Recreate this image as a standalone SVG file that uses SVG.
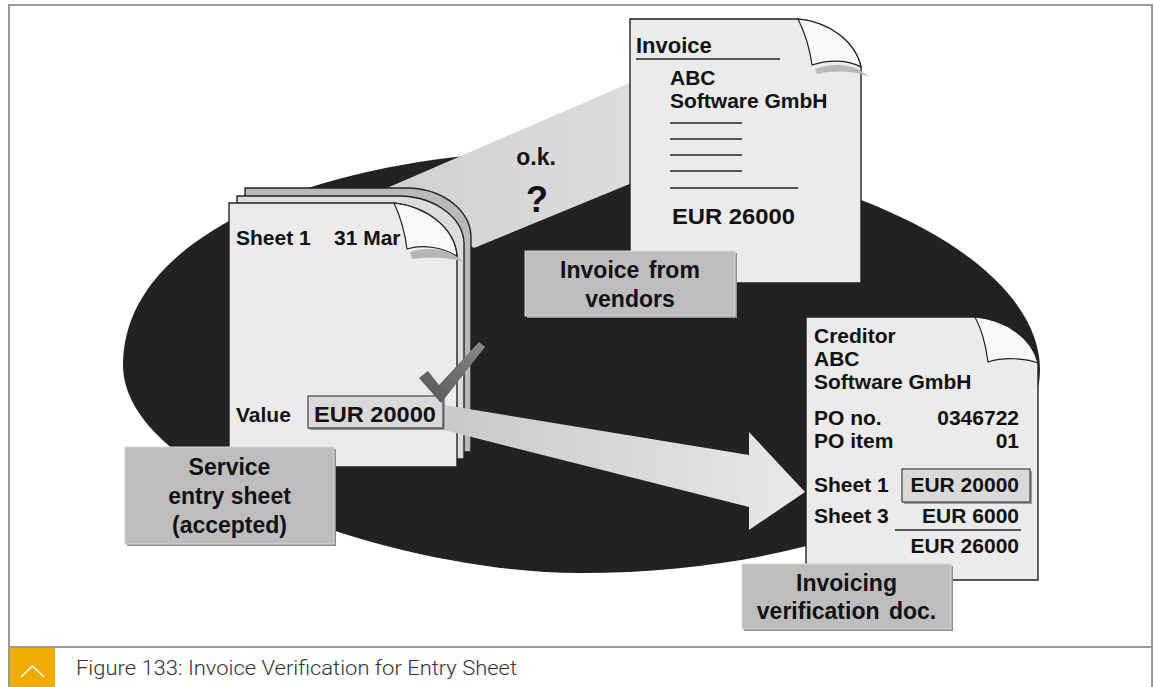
<svg xmlns="http://www.w3.org/2000/svg" width="1155" height="687" viewBox="0 0 1155 687">
  <style>
    .t { font-family: "Liberation Sans", Arial, sans-serif; font-weight: bold; fill: #111; }
    .doc { font-size: 21px; }
    .lbltxt { font-size: 23px; text-anchor: middle; }
    .paper { stroke: #222; stroke-width: 1.4; stroke-linejoin: round; }
    .flap { fill: #f8f8f8; stroke: #222; stroke-width: 1.2; stroke-linejoin: round; }
    .lbl { fill: #bdbdbd; stroke: #d6d6d6; stroke-width: 1; }
    .lbl-sh { fill: #8e8e8e; }
    .valbox { fill: #d9d9d9; stroke: #444; stroke-width: 1.2; }
    .valbox-sh { fill: #9a9a9a; }
    .rule { stroke: #222; stroke-width: 1.5; }
  </style>
  <defs>
    <linearGradient id="beamGrad" x1="0" y1="0" x2="1" y2="0">
      <stop offset="0" stop-color="#d0d0d0"/>
      <stop offset="1" stop-color="#dcdcdc"/>
    </linearGradient>
    <linearGradient id="arrowGrad" x1="0" y1="0" x2="1" y2="0">
      <stop offset="0" stop-color="#c9c9c9"/>
      <stop offset="1" stop-color="#e8e8e8"/>
    </linearGradient>
    <linearGradient id="checkGrad" x1="1" y1="0" x2="0" y2="1">
      <stop offset="0" stop-color="#8a8a8a"/>
      <stop offset="1" stop-color="#555"/>
    </linearGradient>
  </defs>

  <!-- page frame and caption -->
  <g id="frame">
    <rect x="0" y="0" width="1155" height="687" fill="#fff"/>
    <path d="M9,700 V5 H1152 V700" fill="none" stroke="#9a9a9a" stroke-width="2"/>
    <line x1="9" y1="647" x2="1152" y2="647" stroke="#9a9a9a" stroke-width="2"/>
    <rect x="10" y="648" width="45" height="39" fill="#f0ab00"/>
    <polyline points="21,677 32.5,666 44,677" fill="none" stroke="#fff" stroke-width="1.6"/>
    <text x="76" y="675" font-family="Roboto, 'Open Sans', sans-serif" font-weight="300" font-size="20" fill="#333" textLength="441" lengthAdjust="spacingAndGlyphs">Figure 133: Invoice Verification for Entry Sheet</text>
  </g>

  <!-- dark oval backdrop -->
  <g id="backdrop">
    <path d="M123,365 C123,230 330,150 580,150 C810,150 1040,250 1040,370 C1040,470 850,573 580,573 C400,573 123,480 123,365 Z" fill="#222"/>
  </g>

  <!-- connectors: comparison beam and transfer arrow -->
  <g id="connectors">
    <polygon id="beam" points="380,191 632,82 632,183 474,248" fill="url(#beamGrad)"/>
  </g>

  <!-- stack of service entry sheets -->
  <g id="entry-sheets">
    <path class="paper" d="M245,188 H410 C446,190 470,212 471,236 V452 H245 Z" fill="#b9b9b9"/>
    <path class="paper" d="M237,196 H402 C438,198 463,219 464,243 V459 H237 Z" fill="#dcdcdc"/>
    <path class="paper" d="M229,203 H394 C428,207 455,229 457,256 V467 H229 Z" fill="#ebebeb"/>
    <path d="M410,252 C430,246 449,249 464,262 C450,257 430,257 412,259 Z" fill="#b5b5b5"/>
    <path class="flap" d="M394,203 C401,218 405,233 407,249 C422,244 442,247 457,256 C455,229 428,207 394,203 Z"/>
    <text class="t doc" x="236" y="245">Sheet 1</text>
    <text class="t doc" x="334" y="245">31 Mar</text>
    <text class="t doc" x="236" y="422" font-size="22">Value</text>
  </g>

  <g id="connector-arrow">
    <polygon points="444,405 749,455 749,432 805,492 749,530 749,507 444,430" fill="url(#arrowGrad)"/>
  </g>

  <g id="sheet-value">
    <rect class="valbox-sh" x="310" y="398" width="135" height="32"/>
    <rect class="valbox" x="308" y="396" width="135" height="32"/>
    <text class="t" x="314" y="422" font-size="22" textLength="122" lengthAdjust="spacingAndGlyphs">EUR 20000</text>
    <polygon points="419,378 428,371 439,385 479,342 485,347 441,403" fill="url(#checkGrad)"/>
  </g>

  <!-- vendor invoice -->
  <g id="invoice">
    <path class="paper" d="M630,19 H798 C829,22 855,41 861,67 V283 H630 Z" fill="#ebebeb"/>
    <path d="M815,69 C836,62 855,64 869,77 C856,71 836,70 817,74 Z" fill="#b8b8b8"/>
    <path class="flap" d="M798,19 C805,33 810,50 812,65 C829,59 848,60 861,67 C855,41 829,22 798,19 Z"/>
    <text class="t" x="636" y="53" font-size="22">Invoice</text>
    <line class="rule" x1="636" y1="59" x2="780" y2="59"/>
    <text class="t doc" x="670" y="85">ABC</text>
    <text class="t doc" x="670" y="108">Software GmbH</text>
    <line class="rule" x1="670" y1="123" x2="742" y2="123"/>
    <line class="rule" x1="670" y1="139" x2="742" y2="139"/>
    <line class="rule" x1="670" y1="155" x2="742" y2="155"/>
    <line class="rule" x1="670" y1="171" x2="742" y2="171"/>
    <line class="rule" x1="670" y1="188" x2="798" y2="188"/>
    <text class="t" x="672" y="224" font-size="22" textLength="123" lengthAdjust="spacingAndGlyphs">EUR 26000</text>
  </g>

  <g id="check-question">
    <text class="t" x="536" y="165" font-size="23" text-anchor="middle">o.k.</text>
    <text class="t" x="537" y="212" font-size="36" text-anchor="middle" fill="#333">?</text>
  </g>

  <!-- invoice verification document -->
  <g id="verification-doc">
    <path class="paper" d="M806,317 H975 C1006,320 1032,338 1038,363 V580 H806 Z" fill="#ebebeb"/>
    <path class="flap" d="M975,317 C982,330 986,346 988,362 C1004,357 1024,358 1038,363 C1032,338 1006,320 975,317 Z"/>
    <text class="t doc" x="814" y="343">Creditor</text>
    <text class="t doc" x="814" y="366">ABC</text>
    <text class="t doc" x="814" y="389">Software GmbH</text>
    <text class="t doc" x="814" y="425">PO no.</text>
    <text class="t doc" x="1019" y="425" text-anchor="end">0346722</text>
    <text class="t doc" x="814" y="448">PO item</text>
    <text class="t doc" x="1019" y="448" text-anchor="end">01</text>
    <text class="t doc" x="814" y="492">Sheet 1</text>
    <rect class="valbox-sh" x="904" y="471" width="128" height="33"/>
    <rect class="valbox" x="902" y="469" width="128" height="33"/>
    <text class="t doc" x="1019" y="492" text-anchor="end">EUR 20000</text>
    <text class="t doc" x="814" y="523">Sheet 3</text>
    <text class="t doc" x="1019" y="523" text-anchor="end">EUR 6000</text>
    <line class="rule" x1="895" y1="530" x2="1021" y2="530"/>
    <text class="t doc" x="1019" y="553" text-anchor="end">EUR 26000</text>
  </g>

  <!-- captions -->
  <g id="label-invoice">
    <rect class="lbl-sh" x="527" y="253" width="210" height="65"/>
    <rect class="lbl" x="525" y="251" width="210" height="65"/>
    <text class="t lbltxt" x="630" y="278" word-spacing="3">Invoice from</text>
    <text class="t lbltxt" x="630" y="307">vendors</text>
  </g>

  <g id="label-entry-sheet">
    <rect class="lbl-sh" x="127" y="449" width="209" height="97"/>
    <rect class="lbl" x="125" y="447" width="209" height="97"/>
    <text class="t lbltxt" x="229.5" y="475">Service</text>
    <text class="t lbltxt" x="229.5" y="504">entry sheet</text>
    <text class="t lbltxt" x="229.5" y="533">(accepted)</text>
  </g>

  <g id="label-verification">
    <rect class="lbl-sh" x="744" y="566" width="209" height="65"/>
    <rect class="lbl" x="742" y="564" width="209" height="65"/>
    <text class="t lbltxt" x="846.5" y="591">Invoicing</text>
    <text class="t lbltxt" x="846.5" y="619" word-spacing="3">verification doc.</text>
  </g>
</svg>
